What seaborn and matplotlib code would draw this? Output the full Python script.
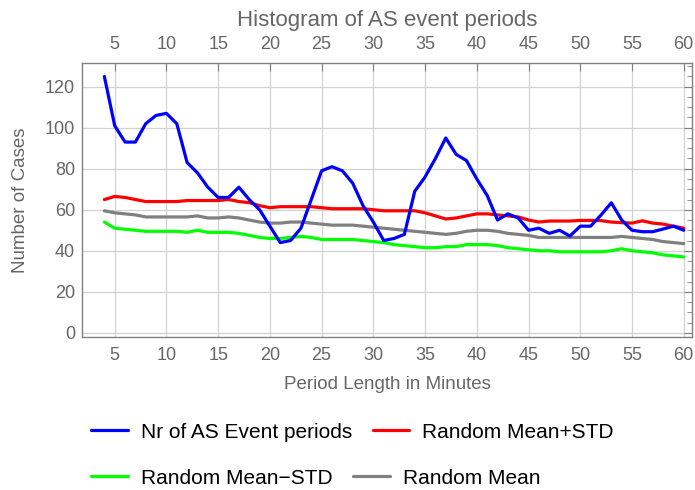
import numpy as np
import pandas as pd
import seaborn as sns
import matplotlib.pyplot as plt
from matplotlib.lines import Line2D
from matplotlib.ticker import MultipleLocator

# period lengths in minutes
periods = list(range(4, 61))

nr_events = [125, 101, 93, 93, 102, 106, 107, 102, 83, 78,
             71, 66, 66, 71, 65, 60, 52, 44, 45, 51,
             65, 79, 81, 79, 73, 62, 54, 45, 46, 48,
             69, 76, 85, 95, 87, 84, 75, 67, 55, 58,
             56, 50, 51, 48.5, 50, 47.2, 52, 52, 57.4, 63.4,
             55, 50, 49.3, 49.3, 50.6, 52, 50]

mean_plus_std = [65, 66.5, 66, 65, 64, 64, 64, 64, 64.5, 64.5,
                 64.5, 64.5, 65, 64, 63.5, 62, 61, 61.5, 61.5, 61.5,
                 61.5, 61, 60.5, 60.5, 60.5, 60.5, 60, 59.5, 59.5, 59.5,
                 59.5, 58.5, 57, 55.5, 56, 57, 58, 58, 57.5, 57,
                 56.5, 55, 54, 54.5, 54.5, 54.5, 54.8, 54.8, 54.7, 54,
                 53.7, 53.5, 54.6, 53.5, 53, 52, 51]

mean_minus_std = [54, 51, 50.5, 50, 49.5, 49.5, 49.5, 49.5, 49, 50,
                  49, 49, 49, 48.5, 47.5, 46.5, 46, 46, 46.5, 47,
                  46.5, 45.5, 45.5, 45.5, 45.5, 45, 44.5, 44, 43, 42.5,
                  42, 41.5, 41.5, 42, 42, 43, 43, 43, 42.5, 41.5,
                  41, 40.5, 40, 40, 39.5, 39.5, 39.5, 39.5, 39.5, 40,
                  41, 40, 39.5, 39, 38, 37.5, 37]

mean_random = [59.5, 58.5, 58, 57.5, 56.5, 56.5, 56.5, 56.5, 56.5, 57,
               56, 56, 56.5, 56, 55, 54, 53.5, 53.5, 54, 54,
               53.5, 53, 52.5, 52.5, 52.5, 52, 51.5, 51, 50.5, 50,
               49.5, 49, 48.5, 48, 48.5, 49.5, 50, 50, 49.5, 48.5,
               48, 47.5, 46.5, 46.5, 46.5, 46.5, 46.5, 46.5, 46.5, 46.5,
               47, 46.5, 46, 45.5, 44.5, 44, 43.5]

series_names = ["Nr of AS Event periods", "Random Mean+STD",
                "Random Mean\u2212STD", "Random Mean"]
series_colors = ["#0000ff", "#ff0000", "#00ff00", "#808080"]

df = pd.DataFrame({
    "period": periods * 4,
    "count": nr_events + mean_plus_std + mean_minus_std + mean_random,
    "series": sum([[n] * len(periods) for n in series_names], []),
})

sns.set_style("white")
plt.rcParams["font.family"] = ["Liberation Sans", "DejaVu Sans"]
txt = "#666666"
lw = 2.3

fig = plt.figure(figsize=(6.95, 4.9), dpi=100)
ax = fig.add_axes([0.118, 0.3116, 0.8777, 0.5604])

# gray/green first so blue ends up on top
for i in [3, 2, 1, 0]:
    sub = df[df["series"] == series_names[i]]
    sns.lineplot(data=sub, x="period", y="count", color=series_colors[i],
                 linewidth=lw, ax=ax, legend=False)

ax.set_xlim(1.84, 60.8)
ax.set_ylim(-2.2, 131.7)
ax.xaxis.set_major_locator(MultipleLocator(5))
ax.yaxis.set_major_locator(MultipleLocator(20))
ax.yaxis.set_minor_locator(MultipleLocator(5))
ax.grid(True, which="major", color="#d2d2d2", linewidth=0.9)

for s in ax.spines.values():
    s.set_color("#808080")
    s.set_linewidth(1.0)

ax.tick_params(axis="both", which="both", direction="in", colors="#808080",
               labelcolor=txt, labelsize=13, top=True, right=True,
               labeltop=True, labelright=False)
ax.tick_params(which="major", length=6)
ax.tick_params(which="minor", length=3.5)
ax.tick_params(axis="x", pad=7)
ax.tick_params(axis="y", pad=5)

ax.set_xlabel("Period Length in Minutes", color=txt, fontsize=13.5)
ax.set_ylabel("Number of Cases", color=txt, fontsize=13.5)
ax.xaxis.set_label_coords(0.5, -0.14)
ax.yaxis.set_label_coords(-0.087, 0.5)
ax.set_title("Histogram of AS event periods", color=txt, fontsize=16, pad=7)

# two legend rows, each laid out on its own like the original
rows = [(0, 1, 1 - 432 / 490), (2, 3, 1 - 478 / 490)]
for a, b, ypos in rows:
    hs = [Line2D([], [], color=series_colors[k], linewidth=lw) for k in (a, b)]
    fig.legend(hs, [series_names[a], series_names[b]], ncol=2,
               loc="center left", bbox_to_anchor=(91 / 695, ypos),
               frameon=False, fontsize=15, labelcolor="black",
               handlelength=1.76, handletextpad=0.62, columnspacing=1.0,
               borderpad=0, borderaxespad=0)

fig.savefig("out.png", dpi=100)
